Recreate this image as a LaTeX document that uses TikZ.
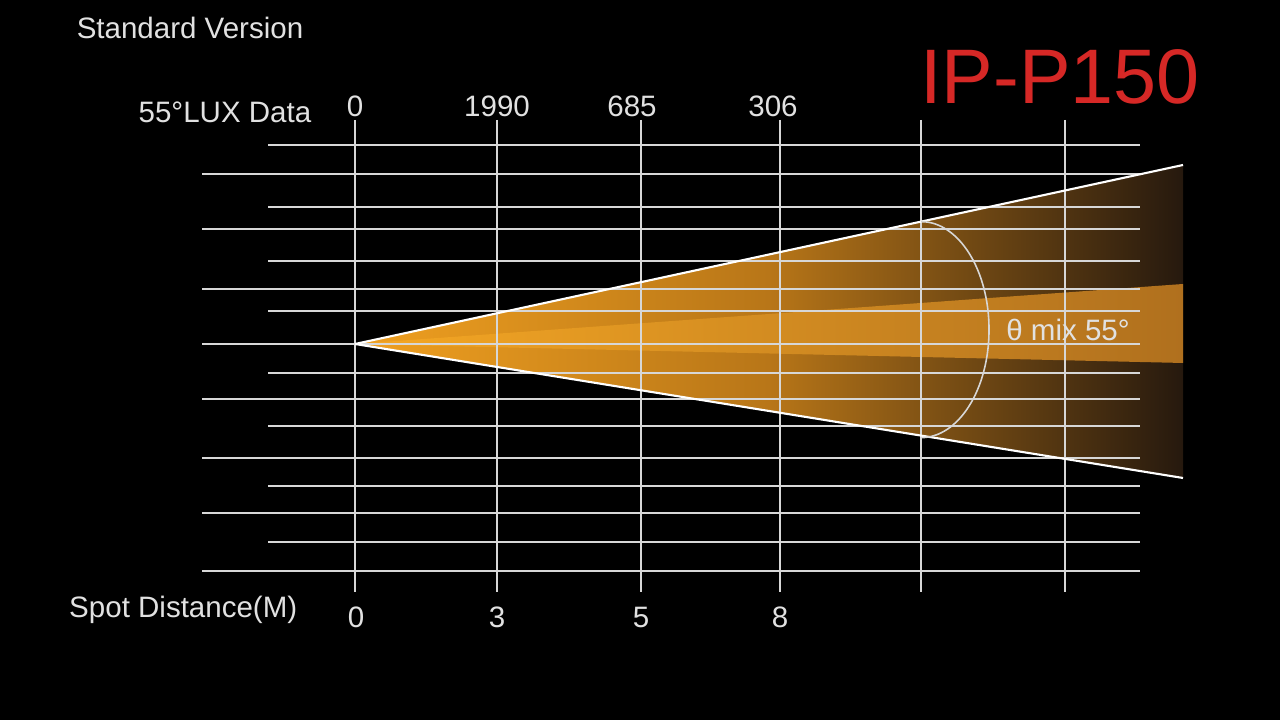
\documentclass[tikz,border=0pt]{standalone}
\usepackage{fontspec}
\setmainfont{Liberation Sans}
\usetikzlibrary{positioning, calc}

\definecolor{beamhot}{RGB}{240,160,32}
\definecolor{beammid}{RGB}{184,118,24}
\definecolor{beamdark}{RGB}{38,25,14}
\definecolor{bandhot}{RGB}{246,168,36}
\definecolor{banddark}{RGB}{176,112,30}
\definecolor{gridgray}{RGB}{215,215,215}
\definecolor{titlered}{RGB}{214,40,38}
\definecolor{labelgray}{RGB}{225,225,225}

\tikzset{
  gridline/.style={gridgray, line width=0.45pt},
  beamedge/.style={white, line width=0.6pt},
  axislabel/.style={text=labelgray, font=\fontsize{8.4}{10}\selectfont, inner sep=0pt}
}

\begin{document}
\begin{tikzpicture}[scale=1.0]
% Background
\fill[black] (0,0) rectangle (12.8,7.2);

% Beam apex and ends
\coordinate (apex) at (3.55,3.76);
\coordinate (beamtop) at (11.83,5.55);
\coordinate (beambot) at (11.83,2.42);
\coordinate (bandtop) at (11.83,4.36);
\coordinate (bandbot) at (11.83,3.57);

% Beam cone
\shade[left color=beamhot, right color=beamdark, middle color=beammid]
    (apex) -- (beamtop) -- (beambot) -- cycle;
\shade[left color=bandhot, right color=banddark]
    (apex) -- (bandtop) -- (bandbot) -- cycle;

% Horizontal lines (long and short)
\foreach \y in {5.46,4.91,4.31,3.76,3.21,2.62,2.07,1.49}
    \draw[gridline] (2.02,\y) -- (11.40,\y);
\foreach \y in {5.75,5.13,4.59,4.09,3.47,2.94,2.34,1.78}
    \draw[gridline] (2.68,\y) -- (11.40,\y);

% Vertical lines
\foreach \x in {3.55,4.97,6.41,7.80,9.21,10.65}
    \draw[gridline] (\x,6.00) -- (\x,1.28);

% Beam edges
\draw[beamedge] (apex) -- (beamtop);
\draw[beamedge] (apex) -- (beambot);

% Beam angle arc
\coordinate (arctop) at ($(apex)!0.6836!(beamtop)$);
\draw[gridline] (arctop) arc[start angle=90, end angle=-90, x radius=0.68, y radius=1.08];

% Labels
\node[axislabel] (title) at (1.90,6.92) {Standard Version};
\node[axislabel, anchor=east] (luxhead) at (3.12,6.08) {55°LUX Data};
\node[axislabel, anchor=east] (disthead) at (2.98,1.10) {Spot Distance(M)};

\foreach \x/\v [count=\i] in {3.55/0, 4.97/1990, 6.32/685, 7.73/306}
    \node[axislabel] (lux\i) at (\x,6.14) {\v};
\foreach \x/\v [count=\i] in {3.56/0, 4.97/3, 6.41/5, 7.80/8}
    \node[axislabel] (dist\i) at (\x,1.03) {\v};

\node[axislabel] (angle) at (10.68,3.90) {θ mix 55°};
\node[text=titlered, font=\fontsize{22}{26}\selectfont, inner sep=0pt] (model) at (10.60,6.43) {IP-P150};
\end{tikzpicture}
\end{document}
